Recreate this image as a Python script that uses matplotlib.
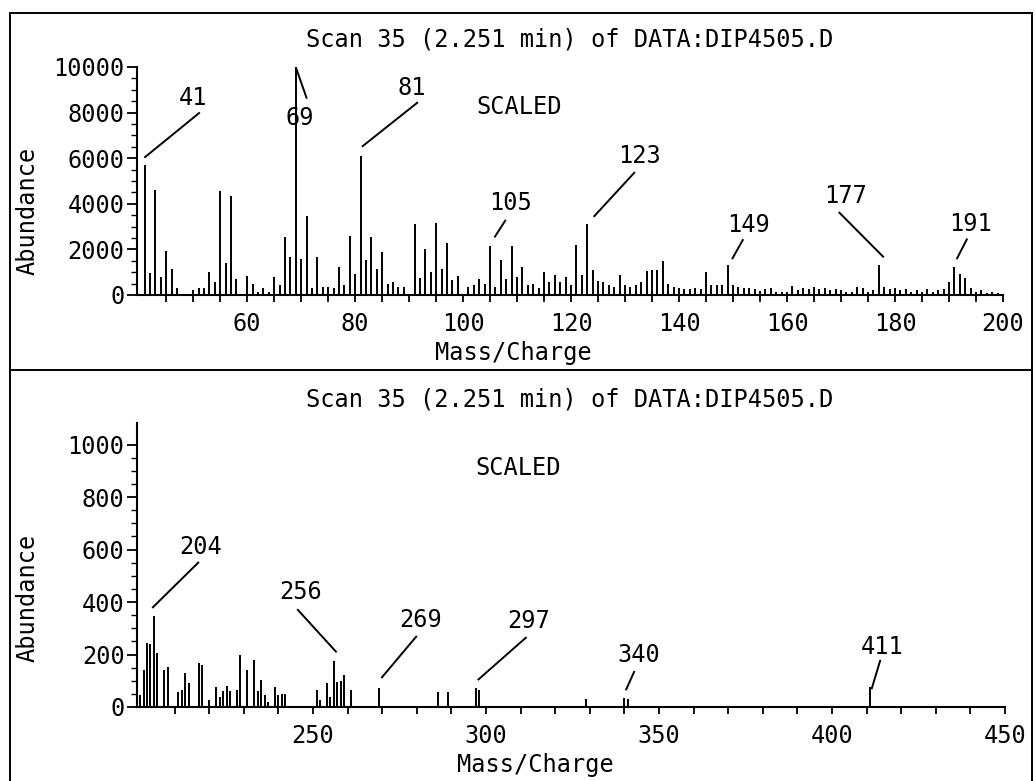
import numpy as np
import matplotlib
matplotlib.use("Agg")
import matplotlib.pyplot as plt
from matplotlib.lines import Line2D

# ---- data ----
title = "Scan 35 (2.251 min) of DATA:DIP4505.D"

top_mz = [41, 42, 43, 44, 45, 46, 47, 50, 51, 52, 53, 54, 55, 56, 57, 58, 60, 61, 62, 63,
          64, 65, 66, 67, 68, 69, 70, 71, 72, 73, 74, 75, 76, 77, 78, 79, 80, 81, 82, 83,
          84, 85, 86, 87, 88, 89, 91, 92, 93, 94, 95, 96, 97, 98, 99, 101, 102, 103, 104, 105,
          106, 107, 108, 109, 110, 111, 112, 113, 114, 115, 116, 117, 118, 119, 120, 121, 122, 123, 124, 125,
          126, 127, 128, 129, 130, 131, 132, 133, 134, 135, 136, 137, 138, 139, 140, 141, 142, 143, 144, 145,
          146, 147, 148, 149, 150, 151, 152, 153, 154, 155, 156, 157, 158, 159, 160, 161, 162, 163, 164, 165,
          166, 167, 168, 169, 170, 171, 172, 173, 174, 175, 176, 177, 178, 179, 180, 181, 182, 183, 184, 185,
          186, 187, 188, 189, 190, 191, 192, 193, 194, 195, 196, 197, 198, 199]
top_abund = [5700, 950, 4600, 800, 1950, 1150, 290, 220, 290, 290, 1020, 580, 4550, 1400, 4350, 700, 830, 480, 150, 290,
             150, 800, 440, 2550, 1650, 10000, 1600, 3450, 290, 1650, 370, 370, 290, 1250, 440, 2600, 900, 6100, 1550, 2550,
             1150, 1900, 480, 580, 340, 370, 3100, 730, 2000, 1000, 3150, 1150, 2300, 660, 850, 370, 440, 700, 500, 2150,
             370, 1550, 700, 2150, 800, 1250, 440, 500, 290, 1000, 580, 880, 550, 800, 440, 2200, 880, 3100, 1100, 630,
             580, 440, 370, 880, 440, 370, 440, 580, 1050, 1100, 1100, 1500, 470, 340, 290, 250, 250, 290, 250, 1000,
             440, 440, 440, 1300, 440, 370, 290, 290, 250, 190, 250, 300, 150, 120, 150, 400, 200, 300, 250, 350,
             250, 300, 200, 250, 200, 120, 150, 350, 300, 150, 200, 1300, 350, 250, 300, 200, 250, 150, 200, 120,
             250, 150, 200, 250, 550, 1250, 900, 750, 300, 150, 200, 100, 150, 80]

bottom_mz = [200, 201, 202, 203, 204, 205, 207, 208, 211, 212, 213, 214, 217, 218, 220, 222, 223, 224, 225, 226,
             228, 229, 231, 233, 234, 235, 236, 237, 239, 240, 241, 242, 251, 252, 254, 255, 256, 257, 258, 259,
             261, 269, 286, 289, 297, 298, 329, 340, 341, 411]
bottom_abund = [45, 141, 244, 240, 345, 206, 141, 152, 57, 63, 130, 90, 168, 160, 25, 76, 40, 60, 80, 60,
                66, 200, 140, 179, 60, 103, 45, 20, 76, 45, 50, 50, 63, 25, 91, 40, 175, 95, 100, 122,
                63, 72, 57, 58, 72, 63, 30, 35, 30, 75]

# labelled peaks: (label, text x, text y, leader start, leader end)
top_labels = [("41", 50, 8650, (41.1, 6050), (51.1, 7980)),
              ("69", 69.8, 7750, (69.0, 10000), (71.0, 8650)),
              ("81", 90.5, 9100, (81.4, 6530), (91.5, 8430)),
              ("105", 108.7, 4050, (105.9, 2560), (107.8, 3260)),
              ("123", 132.6, 6100, (124.3, 3460), (131.7, 5360)),
              ("149", 152.8, 3080, (149.9, 1610), (151.8, 2410)),
              ("177", 170.9, 4360, (177.8, 1680), (169.7, 3610)),
              ("191", 193.9, 3110, (191.5, 1610), (193.3, 2440))]
bottom_labels = [("204", 217.6, 611, (203.7, 380), (216.8, 550)),
                 ("256", 246.4, 437, (256.6, 211), (245.6, 370)),
                 ("269", 281.1, 331, (269.9, 113), (279.8, 268)),
                 ("297", 312.4, 328, (297.8, 105), (311.5, 264)),
                 ("340", 344.2, 198, (340.5, 67), (342.8, 134)),
                 ("411", 414.6, 230, (411.5, 71), (413.9, 176))]

plt.rcParams['font.family'] = ['DejaVu Sans Mono']
W, H = 1036, 781
FS = 17

fig = plt.figure(figsize=(W / 100, H / 100), dpi=100)

# outer frame and separator, as on the plotter sheet
for xs, ys in [([10, 1032], [13, 13]), ([10, 10], [13, 781]), ([1032, 1032], [13, 781]),
               ([10, 1032], [370, 370])]:
    fig.add_artist(Line2D([x / W for x in xs], [1 - y / H for y in ys],
                          color='black', lw=1.4))


def setup(ax, xlim, ylim, xticks, xlabels_every, ymajor, yminor):
    ax.set_xlim(*xlim)
    ax.set_ylim(*ylim)
    for s in ['top', 'right']:
        ax.spines[s].set_visible(False)
    for s in ['left', 'bottom']:
        ax.spines[s].set_linewidth(1.5)
    ax.set_xticks(xticks)
    ax.set_xticklabels([str(t) if t % xlabels_every == 0 else '' for t in xticks])
    ax.set_yticks(ymajor)
    ax.set_yticks(yminor, minor=True)
    ax.tick_params(axis='x', direction='out', length=5, width=1.3, pad=7, labelsize=FS)
    ax.tick_params(axis='y', which='major', direction='out', length=7, width=1.3, pad=2, labelsize=FS)
    ax.tick_params(axis='y', which='minor', direction='out', length=4, width=1.0)
    ax.patch.set_alpha(0)


# ---- top panel: m/z 40-200 ----
ax1 = fig.add_axes([137 / W, 1 - 295 / H, (1003 - 137) / W, (295 - 67) / H])
ax1.vlines(top_mz, 0, top_abund, color='black', lw=1.4)
setup(ax1, (39.6, 200), (0, 10000), np.arange(45, 201, 5), 20,
      np.arange(0, 10001, 2000), np.arange(0, 10001, 500))
for txt, tx, ty, p0, p1 in top_labels:
    ax1.plot([p0[0], p1[0]], [p0[1], p1[1]], color='black', lw=1.4)
    ax1.text(tx, ty, txt, ha='center', va='center', fontsize=FS)
ax1.text(110.4, 8260, "SCALED", ha='center', va='center', fontsize=FS)

# ---- bottom panel: m/z 200-450 ----
ax2 = fig.add_axes([137 / W, 1 - 707 / H, (1005 - 137) / W, (707 - 423) / H])
ax2.vlines(bottom_mz, 0, bottom_abund, color='black', lw=1.4)
setup(ax2, (199.1, 450), (0, 1082), np.arange(210, 451, 10), 50,
      np.arange(0, 1001, 200), np.arange(0, 1001, 50))
for txt, tx, ty, p0, p1 in bottom_labels:
    ax2.plot([p0[0], p1[0]], [p0[1], p1[1]], color='black', lw=1.4)
    ax2.text(tx, ty, txt, ha='center', va='center', fontsize=FS)
ax2.text(309.3, 909, "SCALED", ha='center', va='center', fontsize=FS)

# titles and axis labels
fig.text(570 / W, 1 - 40 / H, title, ha='center', va='center', fontsize=FS)
fig.text(570 / W, 1 - 399 / H, title, ha='center', va='center', fontsize=FS)
fig.text(513 / W, 1 - 353 / H, "Mass/Charge", ha='center', va='center', fontsize=FS)
fig.text(535 / W, 1 - 765 / H, "Mass/Charge", ha='center', va='center', fontsize=FS)
fig.text(28 / W, 1 - 211 / H, "Abundance", ha='center', va='center', rotation=90, fontsize=FS)
fig.text(28 / W, 1 - 598 / H, "Abundance", ha='center', va='center', rotation=90, fontsize=FS)

fig.savefig("out.png", dpi=100, facecolor='white')
